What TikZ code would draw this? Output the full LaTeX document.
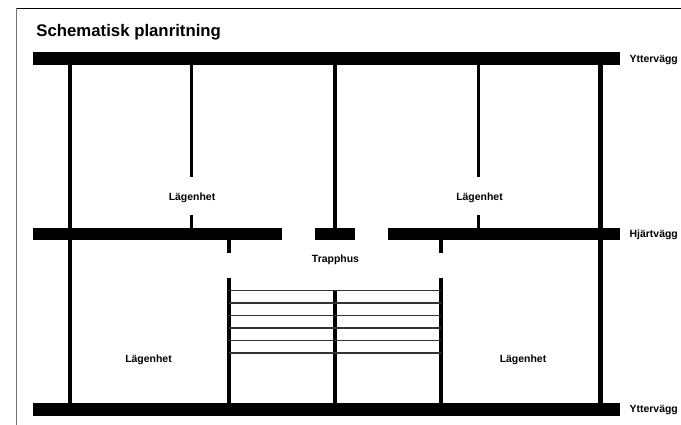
\documentclass[tikz,border=0pt]{standalone}
\usepackage{fontspec}
\setmainfont{Liberation Sans}
\begin{document}
\begin{tikzpicture}[x=0.02cm, y=-0.02cm,
    wall/.style={
        fill=black
    },
    partition/.style={
        draw=black,
        line width=2.4pt
    },
    thinwall/.style={
        draw=black,
        line width=1.9pt
    },
    tread/.style={
        draw=black!80,
        line width=0.85pt
    },
    label/.style={
        inner sep=0pt,
        font=\bfseries\fontsize{5.95}{7}\selectfont
    },
    heading/.style={
        inner sep=0pt,
        anchor=west,
        font=\bfseries\fontsize{9.55}{11}\selectfont
    }
]
\useasboundingbox (0,0) rectangle (681,425);

%%%%%%%%%%%%%%%%%%%%%%%%
% Ram
%%%%%%%%%%%%%%%%%%%%%%%%

\draw[black!55, line width=0.7pt] (16.5,8.5) -- (16.5,425);
\draw[black, line width=0.7pt] (16.5,8.5) -- (681,8.5);

%%%%%%%%%%%%%%%%%%%%%%%%
% Tvaervaeggar
%%%%%%%%%%%%%%%%%%%%%%%%

% --- Ytterväggar ---
\fill[wall] (33,52.5) rectangle (620,65.5);
\fill[wall] (33,403) rectangle (620,415.7);

% --- Hjärtvägg ---
\fill[wall] (33,228) rectangle (282,240.5);
\fill[wall] (315,228) rectangle (355,240.5);
\fill[wall] (388,228) rectangle (620,240.5);

%%%%%%%%%%%%%%%%%%%%%%%%
% Laengsgaende vaeggar
%%%%%%%%%%%%%%%%%%%%%%%%

\draw[partition] (70,65) -- (70,403);
\draw[partition] (600.5,65) -- (600.5,403);
\draw[partition] (335,65) -- (335,228);
\draw[partition] (335,290) -- (335,403);

% --- Lägenhetsväggar ---
\foreach \x in {191.5,478.5} {
    \draw[thinwall] (\x,65) -- (\x,177);
    \draw[thinwall] (\x,215) -- (\x,228);
}

% --- Trapphus ---
\foreach \x in {229,441} {
    \draw[partition] (\x,240) -- (\x,253);
    \draw[partition] (\x,278) -- (\x,403);
}
\foreach \y in {290.3,302.8,315.3,327.8,340.3,352.8} {
    \draw[tread] (229,\y) -- (441,\y);
}

%%%%%%%%%%%%%%%%%%%%%%%%
% Texter
%%%%%%%%%%%%%%%%%%%%%%%%

\node[heading] (title) at (36,32) {Schematisk planritning};

\node[label] (flat1) at (192,197.5) {Lägenhet};
\node[label] (flat2) at (479.5,197.5) {Lägenhet};
\node[label] (flat3) at (148.5,360) {Lägenhet};
\node[label] (flat4) at (523,360) {Lägenhet};
\node[label] (stairs) at (335.5,260) {Trapphus};

\node[label, anchor=west] (outer1) at (629.3,60) {Yttervägg};
\node[label, anchor=west] (core) at (629.3,235) {Hjärtvägg};
\node[label, anchor=west] (outer2) at (629.3,410) {Yttervägg};

\end{tikzpicture}
\end{document}
